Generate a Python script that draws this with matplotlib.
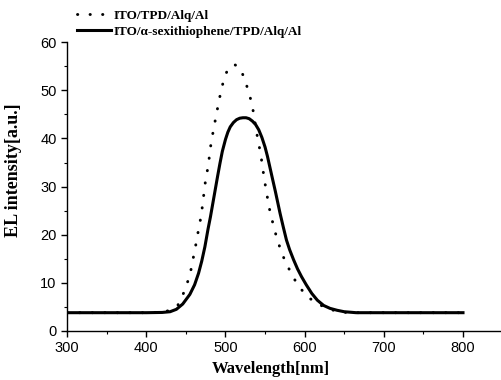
import matplotlib
matplotlib.use("Agg")
import matplotlib.pyplot as plt
from matplotlib.ticker import MultipleLocator

# ITO/TPD/Alq/Al (dotted)
wl_ref = [300, 400, 420, 430, 436, 440, 448, 453, 457, 460, 463, 466, 469, 471, 473,
          475, 478, 480, 482, 485, 488, 491, 494, 498, 502, 506, 512, 519, 525, 530,
          534, 539, 542, 545, 547, 550, 553, 556, 560, 564, 569, 575, 583, 592, 606,
          624, 640, 655, 700, 800]
el_ref = [3.8, 3.8, 3.9, 4.3, 4.8, 5.4, 8.2, 10.6, 13.1, 15.8, 18.3, 21.1, 23.7, 26.1, 28.9,
          31.5, 34.1, 36.7, 39.3, 41.9, 44.6, 47.1, 49.6, 52.3, 54.0, 55.0, 55.3, 54.5, 51.9, 49.3,
          46.7, 41.5, 38.9, 36.2, 33.8, 30.6, 27.7, 25.0, 22.3, 19.8, 17.2, 14.6, 12.0, 9.3, 6.8,
          5.0, 4.1, 3.8, 3.8, 3.8]

# ITO/a-sexithiophene/TPD/Alq/Al (solid)
wl_sex = [300, 400, 420, 430, 438, 446, 455, 461, 466, 470, 474, 478, 481, 484, 487,
          490, 493, 496, 500, 503, 506, 510, 514, 518, 522, 526, 530, 534, 538, 542,
          546, 550, 553, 556, 559, 563, 569, 573, 577, 581, 586, 591, 596, 602, 609,
          616, 624, 632, 641, 650, 665, 700, 800]
el_sex = [3.8, 3.8, 3.85, 4.0, 4.5, 5.6, 7.6, 9.6, 12.0, 14.5, 17.5, 21.2, 23.7, 26.5, 29.3,
          32.1, 34.8, 37.3, 39.8, 41.3, 42.4, 43.3, 43.9, 44.2, 44.3, 44.3, 44.1, 43.6, 42.9, 41.8,
          40.2, 38.2, 36.3, 34.1, 31.9, 29.0, 24.4, 21.6, 18.9, 16.9, 14.8, 12.9, 11.3, 9.6, 7.8,
          6.4, 5.3, 4.7, 4.3, 4.0, 3.8, 3.8, 3.8]

xticks = [300, 400, 500, 600, 700, 800]
yticks = [0, 10, 20, 30, 40, 50, 60]

fig = plt.figure(figsize=(5.01, 3.80), dpi=100)
ax = fig.add_axes([0.134, 0.129, 0.866, 0.760])

ax.plot(wl_ref, el_ref, color='black', linewidth=2.1, linestyle=(0, (0.1, 4.2)),
        dash_capstyle='round', label='ITO/TPD/Alq/Al')
ax.plot(wl_sex, el_sex, color='black', linewidth=2.2, solid_joinstyle='round',
        label='ITO/\u03b1-sexithiophene/TPD/Alq/Al')

ax.set_xlim(300, 848)
ax.set_ylim(0, 60)
ax.set_xticks(xticks)
ax.set_yticks(yticks)
ax.xaxis.set_minor_locator(MultipleLocator(50))
ax.yaxis.set_minor_locator(MultipleLocator(5))
ax.tick_params(which='major', direction='out', length=4, width=1, labelsize=10.5)
ax.tick_params(which='minor', direction='out', length=2.5, width=0.8)
for lbl in ax.get_xticklabels() + ax.get_yticklabels():
    lbl.set_family('Liberation Sans')

ax.spines['top'].set_visible(False)
ax.spines['right'].set_visible(False)
ax.spines['left'].set_linewidth(1.0)
ax.spines['bottom'].set_linewidth(1.0)

ax.set_xlabel('Wavelength[nm]', family='Liberation Serif', weight='bold', fontsize=12)
ax.set_ylabel('EL intensity[a.u.]', family='Liberation Serif', weight='bold', fontsize=13)
ax.xaxis.set_label_coords(0.47, -0.105)
ax.yaxis.set_label_coords(-0.105, 0.557)

leg = fig.legend(loc='upper left', bbox_to_anchor=(0.153, 0.975), frameon=False,
                 prop={'family': 'Liberation Serif', 'weight': 'bold', 'size': 9.5},
                 handlelength=2.6, handletextpad=0.2, labelspacing=0.3,
                 borderpad=0, borderaxespad=0)

fig.savefig('out.png', dpi=100)
